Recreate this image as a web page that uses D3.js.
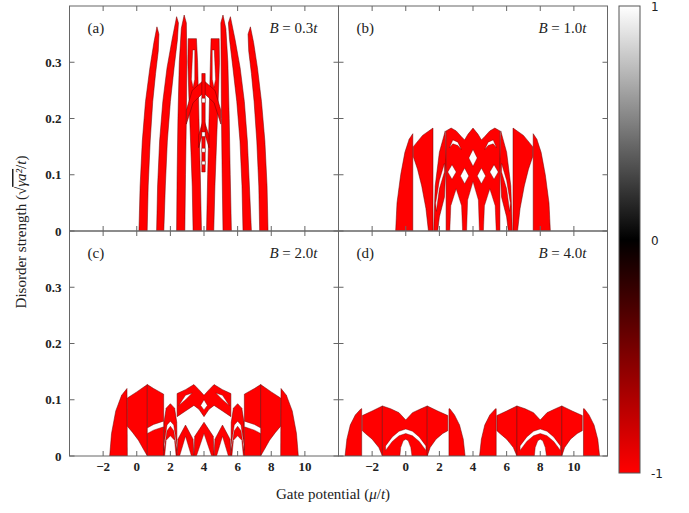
<!DOCTYPE html>
<html><head><meta charset="utf-8">
<script src="https://cdn.jsdelivr.net/npm/d3@7"></script>
<style>body{margin:0;background:#fff}svg{display:block}</style>
</head><body><svg id="fig" width="689" height="513"></svg>
<script>
// Axis settings
const muDomain = [-4, 12];
const wDomain = [0, 0.4];
const xTicks = [-2, 0, 2, 4, 6, 8, 10];
const yTicks = [0, 0.1, 0.2, 0.3];
const panelTags = ["(a)", "(b)", "(c)", "(d)"];
const fieldValues = ["0.3", "1.0", "2.0", "4.0"];
const colorTicks = [1, 0, -1];

// Topological regions (invariant = -1): polygons in (mu/t, disorder) units
const regionsA = [
  [[0.13,0],[0.2,0.08],[0.33,0.16],[0.52,0.23],[0.78,0.29],[1.02,0.335],[1.2,0.363],[1.32,0.35],[1.28,0.32],[1.12,0.28],[0.95,0.23],[0.8,0.16],[0.68,0.08],[0.62,0]],
  [[1.18,0],[1.24,0.08],[1.36,0.16],[1.55,0.23],[1.8,0.29],[2.1,0.34],[2.37,0.381],[2.48,0.37],[2.42,0.34],[2.22,0.29],[2.0,0.23],[1.82,0.16],[1.7,0.08],[1.61,0]],
  [[2.37,0],[2.4,0.1],[2.45,0.2],[2.53,0.3],[2.65,0.36],[2.82,0.384],[2.95,0.37],[2.98,0.3],[2.95,0.2],[2.9,0.1],[2.86,0]],
  [[3.35,0],[3.3,0.08],[3.2,0.16],[3.1,0.24],[3.04,0.3],[3.06,0.342],[3.55,0.342],[3.62,0.3],[3.7,0.2],[3.78,0.1],[3.85,0]],
  [[4.15,0],[4.22,0.1],[4.3,0.2],[4.38,0.3],[4.42,0.342],[4.9,0.342],[4.92,0.3],[4.85,0.24],[4.75,0.16],[4.65,0.08],[4.58,0]],
  [[5.13,0],[5.08,0.1],[5.04,0.2],[5.02,0.3],[5.0,0.37],[5.13,0.384],[5.3,0.36],[5.42,0.3],[5.5,0.2],[5.56,0.1],[5.63,0]],
  [[6.32,0],[6.26,0.08],[6.14,0.16],[5.95,0.23],[5.72,0.29],[5.52,0.34],[5.45,0.37],[5.57,0.381],[5.85,0.34],[6.15,0.29],[6.4,0.23],[6.58,0.16],[6.7,0.08],[6.82,0]],
  [[7.31,0],[7.26,0.08],[7.14,0.16],[6.98,0.23],[6.82,0.28],[6.66,0.32],[6.62,0.35],[6.76,0.363],[6.95,0.335],[7.18,0.29],[7.42,0.23],[7.62,0.16],[7.75,0.08],[7.81,0]],
  [[2.95,0.215],[3.3,0.25],[3.97,0.268],[4.65,0.25],[5.0,0.215],[5.0,0.19],[4.6,0.228],[3.97,0.246],[3.35,0.228],[2.95,0.19]],
  [[3.68,0.17],[3.97,0.2],[4.3,0.17],[4.3,0.148],[3.97,0.18],[3.68,0.148]],
  [[3.87,0.105],[4.07,0.105],[4.07,0.28],[3.87,0.28]]
];
const holesA = [
  [[3.87,0.228],[4.07,0.228],[4.07,0.236],[3.87,0.236]],
  [[3.87,0.168],[4.07,0.168],[4.07,0.176],[3.87,0.176]],
  [[3.87,0.14],[4.07,0.14],[4.07,0.147],[3.87,0.147]],
  [[3.87,0.118],[4.07,0.118],[4.07,0.124],[3.87,0.124]],
  [[3.25,0.27],[3.33,0.322],[3.45,0.322],[3.45,0.27],[3.35,0.255]],
  [[4.49,0.27],[4.49,0.322],[4.61,0.322],[4.69,0.27],[4.59,0.255]]
];

const regionsB = [
  [[-0.6,0],[-0.52,0.05],[-0.3,0.1],[-0.05,0.14],[0.2,0.163],[0.42,0.173],[0.42,0]],
  [[0.45,0.132],[0.45,0.15],[1.0,0.17],[1.62,0.183],[1.62,0],[1.35,0],[1.2,0.04],[0.95,0.08],[0.7,0.11]],
  [[1.66,0],[1.75,0.08],[2.0,0.14],[2.35,0.178],[2.4,0.12],[2.3,0.06],[2.0,0.025],[1.9,0]],
  [[2.4,0],[2.4,0.178],[2.7,0.183],[3.0,0.178],[3.3,0.168],[3.5,0.162],[3.7,0.172],[4.0,0.183],[4.3,0.172],[4.5,0.162],[4.7,0.168],[5.0,0.178],[5.3,0.183],[5.6,0.178],[5.6,0]],
  [[6.1,0],[6.0,0.025],[5.7,0.06],[5.6,0.12],[5.65,0.178],[6.0,0.14],[6.25,0.08],[6.34,0]],
  [[7.55,0.132],[7.55,0.15],[7.0,0.17],[6.38,0.183],[6.38,0],[6.65,0],[6.8,0.04],[7.05,0.08],[7.3,0.11]],
  [[8.6,0],[8.52,0.05],[8.3,0.1],[8.05,0.14],[7.8,0.163],[7.58,0.173],[7.58,0]]
];
const holesB = [
  [[2.62,0],[2.68,0.045],[3.0,0.075],[3.32,0.045],[3.38,0]],
  [[3.62,0],[3.68,0.055],[4.0,0.088],[4.32,0.055],[4.38,0]],
  [[4.62,0],[4.68,0.045],[5.0,0.075],[5.32,0.045],[5.38,0]],
  [[2.5,0.105],[2.75,0.118],[3.0,0.105],[2.75,0.092]],
  [[3.25,0.098],[3.5,0.112],[3.75,0.098],[3.5,0.084]],
  [[3.75,0.13],[4.0,0.145],[4.25,0.13],[4.0,0.115]],
  [[4.25,0.098],[4.5,0.112],[4.75,0.098],[4.5,0.084]],
  [[5.0,0.105],[5.25,0.118],[5.5,0.105],[5.25,0.092]],
  [[2.6,0.148],[2.8,0.162],[3.1,0.158],[3.3,0.145],[3.1,0.152],[2.8,0.155]],
  [[5.4,0.148],[5.2,0.162],[4.9,0.158],[4.7,0.145],[4.9,0.152],[5.2,0.155]],
  [[1.78,0.05],[2.0,0.09],[2.3,0.12],[2.3,0.105],[2.0,0.075],[1.82,0.035]],
  [[6.22,0.05],[6.0,0.09],[5.7,0.12],[5.7,0.105],[6.0,0.075],[6.18,0.035]]
];

const regionsC = [
  [[-1.61,0],[-1.5,0.04],[-1.25,0.08],[-0.9,0.108],[-0.58,0.12],[-0.56,0]],
  [[-0.56,0.053],[-0.56,0.103],[0.0,0.114],[0.63,0.127],[0.63,0],[0.4,0.012],[0.1,0.028],[-0.25,0.042]],
  [[0.63,0],[0.63,0.127],[1.0,0.12],[1.6,0.11],[1.6,0]],
  [[1.6,0],[1.62,0.06],[1.75,0.085],[2.0,0.093],[2.25,0.085],[2.38,0.06],[2.4,0]],
  [[2.4,0.07],[2.4,0.111],[2.9,0.118],[3.4,0.127],[3.7,0.118],[4.0,0.108],[4.3,0.118],[4.6,0.127],[5.1,0.118],[5.6,0.111],[5.6,0.07],[5.1,0.08],[4.6,0.09],[4.3,0.083],[4.0,0.07],[3.7,0.083],[3.4,0.09],[2.9,0.08]],
  [[2.4,0],[2.45,0.03],[2.9,0.055],[3.35,0.03],[3.4,0]],
  [[3.4,0],[3.45,0.035],[4.0,0.06],[4.55,0.035],[4.6,0]],
  [[4.6,0],[4.65,0.03],[5.1,0.055],[5.55,0.03],[5.6,0]],
  [[5.6,0],[5.62,0.06],[5.75,0.085],[6.0,0.093],[6.25,0.085],[6.38,0.06],[6.4,0]],
  [[6.4,0],[6.4,0.11],[7.0,0.12],[7.37,0.127],[7.37,0]],
  [[7.37,0],[7.6,0.012],[7.9,0.028],[8.25,0.042],[8.56,0.053],[8.56,0.103],[8.0,0.114],[7.37,0.127]],
  [[9.61,0],[9.5,0.04],[9.25,0.08],[8.9,0.108],[8.58,0.12],[8.56,0]]
];
const holesC = [
  [[0.63,0.04],[1.0,0.046],[1.6,0.052],[1.6,0.062],[1.0,0.056],[0.63,0.05]],
  [[1.62,0.01],[1.8,0.045],[2.0,0.053],[2.2,0.045],[2.38,0.01],[2.38,0.02],[2.2,0.055],[2.0,0.062],[1.8,0.055],[1.62,0.02]],
  [[1.66,0],[1.75,0.028],[2.0,0.036],[2.25,0.028],[2.34,0]],
  [[2.55,0],[2.9,0.035],[3.25,0]],
  [[3.55,0],[4.0,0.04],[4.45,0]],
  [[4.75,0],[5.1,0.035],[5.45,0]],
  [[2.5,0.09],[2.9,0.1],[3.3,0.112],[2.9,0.108]],
  [[5.5,0.09],[5.1,0.1],[4.7,0.112],[5.1,0.108]],
  [[3.8,0.09],[4.0,0.082],[4.2,0.09],[4.0,0.1]],
  [[5.62,0.01],[5.8,0.045],[6.0,0.053],[6.2,0.045],[6.38,0.01],[6.38,0.02],[6.2,0.055],[6.0,0.062],[5.8,0.055],[5.62,0.02]],
  [[5.66,0],[5.75,0.028],[6.0,0.036],[6.25,0.028],[6.34,0]],
  [[6.4,0.052],[7.0,0.046],[7.37,0.04],[7.37,0.05],[7.0,0.056],[6.4,0.062]]
];

const regionsD = [
  [[-3.61,0],[-3.5,0.03],[-3.3,0.055],[-3.0,0.073],[-2.66,0.084],[-2.62,0.084],[-2.62,0]],
  [[-2.58,0.045],[-2.58,0.072],[-2.0,0.08],[-1.39,0.089],[-1.39,0],[-1.6,0.015],[-2.0,0.03],[-2.4,0.04]],
  [[-1.39,0],[-1.39,0.089],[-0.9,0.084],[-0.4,0.077],[0,0.064],[0.4,0.077],[0.9,0.084],[1.28,0.089],[1.28,0]],
  [[1.28,0],[1.28,0.089],[1.9,0.08],[2.5,0.072],[2.5,0.045],[2.2,0.04],[1.8,0.03],[1.45,0.015]],
  [[2.57,0],[2.57,0.084],[2.62,0.084],[2.9,0.073],[3.2,0.055],[3.42,0.03],[3.53,0]],
  [[4.39,0],[4.5,0.03],[4.7,0.055],[5.0,0.073],[5.34,0.084],[5.38,0.084],[5.38,0]],
  [[5.42,0.045],[5.42,0.072],[6.0,0.08],[6.61,0.089],[6.61,0],[6.4,0.015],[6.0,0.03],[5.6,0.04]],
  [[6.61,0],[6.61,0.089],[7.1,0.084],[7.6,0.077],[8.0,0.064],[8.4,0.077],[8.9,0.084],[9.28,0.089],[9.28,0]],
  [[9.28,0],[9.28,0.089],[9.9,0.08],[10.5,0.072],[10.5,0.045],[10.2,0.04],[9.8,0.03],[9.45,0.015]],
  [[10.57,0],[10.57,0.084],[10.62,0.084],[10.9,0.073],[11.2,0.055],[11.42,0.03],[11.53,0]]
];
const holesD = [
  [[-0.35,0],[-0.3,0.015],[-0.15,0.027],[0,0.03],[0.15,0.027],[0.3,0.015],[0.37,0]],
  [[-1.2,0.018],[-0.8,0.034],[-0.4,0.044],[0,0.048],[0.4,0.044],[0.8,0.034],[1.2,0.018],[1.2,0.01],[0.8,0.026],[0.4,0.036],[0,0.04],[-0.4,0.036],[-0.8,0.026],[-1.2,0.01]],
  [[7.65,0],[7.7,0.015],[7.85,0.027],[8.0,0.03],[8.15,0.027],[8.3,0.015],[8.37,0]],
  [[6.8,0.018],[7.2,0.034],[7.6,0.044],[8.0,0.048],[8.4,0.044],[8.8,0.034],[9.2,0.018],[9.2,0.01],[8.8,0.026],[8.4,0.036],[8.0,0.04],[7.6,0.036],[7.2,0.026],[6.8,0.01]]
];
const panelRegions = [regionsA, regionsB, regionsC, regionsD];
const panelHoles = [holesA, holesB, holesC, holesD];

const svg = d3.select("#fig");
const colorScale = d3.scaleLinear().domain([-1, 0, 1]).range(["#ff0000", "#000000", "#ffffff"]);

// layout
const colX = [69.5, 338.5, 607.5];
const rowY = [6, 231, 456];
const serif = "'Liberation Serif', 'DejaVu Serif', serif";

panelRegions.forEach((regions, i) => {
  const c = i % 2, r = Math.floor(i / 2);
  const x = d3.scaleLinear().domain(muDomain).range([colX[c], colX[c + 1]]);
  const y = d3.scaleLinear().domain(wDomain).range([rowY[r + 1], rowY[r]]);
  const g = svg.append("g");
  const clipId = "clip" + i;
  g.append("clipPath").attr("id", clipId).append("rect")
    .attr("x", colX[c]).attr("y", rowY[r]).attr("width", colX[c + 1] - colX[c]).attr("height", rowY[r + 1] - rowY[r]);
  const line = d3.line().x(d => x(d[0])).y(d => y(d[1]));
  const plot = g.append("g").attr("clip-path", `url(#${clipId})`);
  plot.append("g").selectAll("path").data(regions).join("path")
    .attr("d", d => line(d) + "Z")
    .attr("fill", colorScale(-1))
    .attr("stroke", "#6a0000").attr("stroke-width", 0.5).attr("stroke-linejoin", "round");
  plot.append("g").selectAll("path").data(panelHoles[i]).join("path")
    .attr("d", d => line(d) + "Z")
    .attr("fill", colorScale(1))
    .attr("stroke", "#6a0000").attr("stroke-width", 0.4).attr("stroke-linejoin", "round");

  // frame
  g.append("rect").attr("x", colX[c]).attr("y", rowY[r]).attr("width", colX[c + 1] - colX[c]).attr("height", rowY[r + 1] - rowY[r])
    .attr("fill", "none").attr("stroke", "#666").attr("stroke-width", 1);

  const tl = 5;
  const ticks = g.append("g").attr("stroke", "#666").attr("stroke-width", 1);
  xTicks.forEach(t => {
    ticks.append("line").attr("x1", x(t)).attr("x2", x(t)).attr("y1", rowY[r + 1]).attr("y2", rowY[r + 1] - tl);
    ticks.append("line").attr("x1", x(t)).attr("x2", x(t)).attr("y1", rowY[r]).attr("y2", rowY[r] + tl);
  });
  yTicks.forEach(t => {
    ticks.append("line").attr("x1", colX[c]).attr("x2", colX[c] + tl).attr("y1", y(t)).attr("y2", y(t));
    ticks.append("line").attr("x1", colX[c + 1]).attr("x2", colX[c + 1] - tl).attr("y1", y(t)).attr("y2", y(t));
  });

  if (c === 0) {
    yTicks.forEach(t => {
      g.append("text").attr("x", colX[0] - 8).attr("y", y(t) + 4.5).attr("text-anchor", "end")
        .attr("font-family", serif).attr("font-size", 13).attr("font-weight", "bold").attr("fill", "#222")
        .text(t === 0 ? "0" : d3.format(".1f")(t));
    });
  }
  if (r === 1) {
    xTicks.forEach(t => {
      g.append("text").attr("x", x(t)).attr("y", rowY[2] + 15).attr("text-anchor", "middle")
        .attr("font-family", serif).attr("font-size", 13).attr("font-weight", "bold").attr("fill", "#222")
        .text(t < 0 ? "\u2212" + Math.abs(t) : t);
    });
  }
  g.append("text").attr("x", colX[c] + 18).attr("y", rowY[r] + 27)
    .attr("font-family", serif).attr("font-size", 15).attr("fill", "#222").text(panelTags[i]);
  const lab = g.append("text").attr("x", colX[c + 1] - 21).attr("y", rowY[r] + 27).attr("text-anchor", "end")
    .attr("font-family", serif).attr("font-size", 15).attr("fill", "#222");
  lab.append("tspan").attr("font-style", "italic").text("B");
  lab.append("tspan").text(" = " + fieldValues[i]);
  lab.append("tspan").attr("font-style", "italic").text("t");
});

// axis titles
svg.append("text").attr("x", 333).attr("y", 499).attr("text-anchor", "middle")
  .attr("font-family", serif).attr("font-size", 15).attr("fill", "#222")
  .call(t => {
    t.append("tspan").text("Gate potential (");
    t.append("tspan").attr("font-style", "italic").text("\u03bc");
    t.append("tspan").text("/");
    t.append("tspan").attr("font-style", "italic").text("t");
    t.append("tspan").text(")");
  });
svg.append("text").attr("transform", "translate(26,232) rotate(-90)").attr("text-anchor", "middle")
  .attr("font-family", serif).attr("font-size", 15).attr("fill", "#222")
  .call(t => {
    t.append("tspan").text("Disorder strength (\u221a");
    t.append("tspan").attr("text-decoration", "overline").attr("font-style", "italic").text("\u03b3a\u00b2");
    t.append("tspan").text("/");
    t.append("tspan").attr("font-style", "italic").text("t");
    t.append("tspan").text(")");
  });

// colour bar
const cbX = 619, cbW = 21, cbTop = 6, cbBot = 473;
const cy = d3.scaleLinear().domain([-1, 1]).range([cbBot, cbTop]);
const grad = svg.append("defs").append("linearGradient").attr("id", "cbGrad")
  .attr("x1", 0).attr("y1", 1).attr("x2", 0).attr("y2", 0);
d3.range(-1, 1.001, 0.1).forEach(v => {
  grad.append("stop").attr("offset", (v + 1) / 2).attr("stop-color", colorScale(v));
});
svg.append("rect").attr("x", cbX).attr("y", cbTop).attr("width", cbW).attr("height", cbBot - cbTop)
  .attr("fill", "url(#cbGrad)").attr("stroke", "#555").attr("stroke-width", 1);
colorTicks.forEach(v => {
  svg.append("text").attr("x", cbX + 32).attr("y", cy(v) + 5).attr("font-family", "'DejaVu Sans', sans-serif")
    .attr("font-size", 12).attr("fill", "#222").text(v);
});
</script></body></html>
